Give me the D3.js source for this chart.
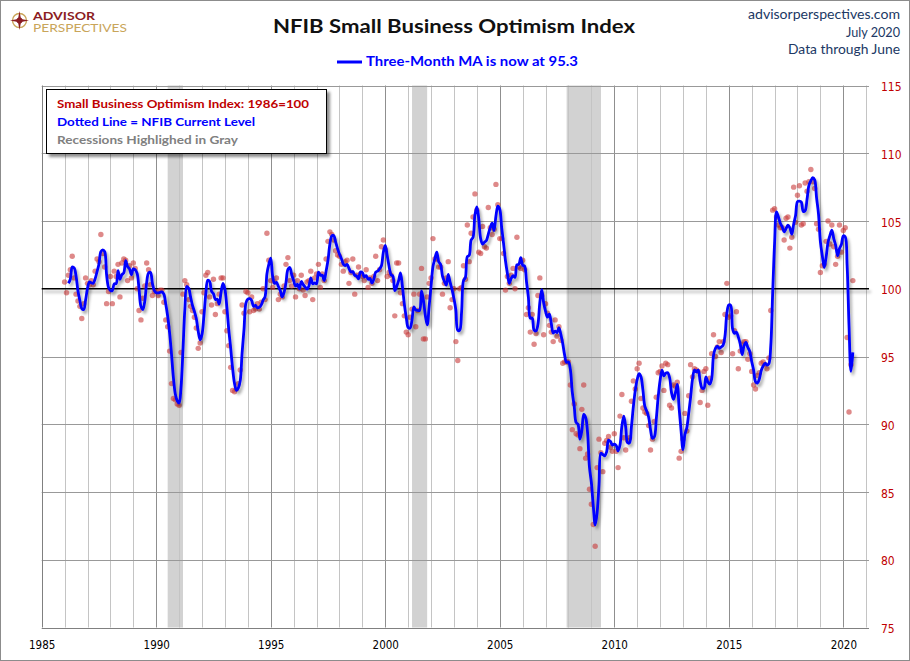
<!DOCTYPE html>
<html>
<head>
<meta charset="utf-8">
<script src="https://d3js.org/d3.v7.min.js"></script>
<style>
  body { margin: 0; background: #fff; }
  svg { display: block; }
</style>
</head>
<body>
<div id="chart"></div>
<script>
// NFIB Small Business Optimism Index, monthly, Jan 1986 .. Jun 2020
var startYear = 1986;
var sboi = [
  /*1986*/ 100.5, 99.7, 101.0, 101.4, 102.4, 100.8, 99.6, 99.1, 98.7, 97.8, 98.9, 100.8,
  /*1987*/ 100.4, 100.3, 100.6, 100.3, 101.3, 102.2, 102.0, 104.0, 102.6, 101.6, 98.9, 99.8,
  /*1988*/ 100.9, 98.9, 101.3, 100.9, 101.8, 99.4, 101.9, 102.2, 102.1, 100.6, 101.7, 100.8,
  /*1989*/ 101.9, 101.5, 100.0, 98.4, 97.7, 99.3, 100.2, 101.9, 101.4, 100.3, 99.5, 99.8,
  /*1990*/ 99.8, 99.5, 99.9, 99.9, 99.0, 97.7, 97.2, 95.4, 93.0, 91.9, 91.8, 91.5,
  /*1991*/ 91.4, 95.3, 99.6, 100.6, 100.3, 99.2, 98.7, 98.4, 97.9, 97.1, 95.6, 96.0,
  /*1992*/ 98.3, 99.7, 101.0, 101.2, 99.4, 98.8, 100.7, 98.1, 98.9, 99.6, 100.8, 100.8,
  /*1993*/ 98.3, 96.9, 95.8, 94.2, 92.5, 92.4, 92.6, 93.0, 94.0, 98.8, 98.2, 99.8,
  /*1994*/ 99.7, 98.3, 99.4, 98.4, 98.5, 98.9, 98.5, 99.0, 100.0, 99.2, 104.1, 102.1,
  /*1995*/ 100.6, 100.1, 100.5, 100.8, 99.2, 99.6, 99.4, 100.2, 101.8, 102.3, 100.6, 100.2,
  /*1996*/ 101.0, 99.4, 100.6, 100.0, 101.0, 99.9, 99.5, 100.5, 100.6, 101.3, 99.2, 100.8,
  /*1997*/ 101.1, 101.8, 100.1, 101.1, 100.6, 102.2, 103.5, 104.2, 104.0, 103.6, 102.8, 102.5,
  /*1998*/ 102.4, 101.8, 101.3, 102.0, 102.1, 100.4, 101.2, 102.2, 99.6, 101.0, 101.6, 101.1,
  /*1999*/ 100.9, 100.6, 101.4, 100.1, 100.8, 100.4, 100.9, 102.4, 100.6, 101.4, 103.1, 103.6,
  /*2000*/ 102.9, 100.9, 101.2, 101.0, 100.6, 98.0, 101.9, 101.9, 99.7, 98.9, 98.0, 96.8,
  /*2001*/ 96.6, 97.9, 98.5, 99.6, 97.2, 98.4, 99.6, 101.5, 96.3, 96.3, 99.4, 100.4,
  /*2002*/ 100.8, 103.7, 102.2, 102.2, 101.6, 101.6, 99.6, 100.4, 100.8, 102.0, 98.6, 99.2,
  /*2003*/ 100.0, 96.1, 94.7, 100.0, 100.1, 101.7, 100.7, 104.7, 102.0, 104.1, 105.3, 107.0,
  /*2004*/ 105.8, 102.7, 102.6, 104.6, 103.1, 103.0, 106.0, 104.5, 104.0, 104.4, 107.7, 106.2,
  /*2005*/ 103.7, 103.7, 102.6, 99.9, 100.9, 100.4, 101.0, 101.5, 100.0, 103.8, 101.6, 101.5,
  /*2006*/ 102.1, 101.4, 98.1, 98.6, 96.8, 98.1, 95.9, 96.7, 99.5, 100.8, 99.5, 96.6,
  /*2007*/ 98.9, 98.2, 97.3, 96.8, 96.1, 97.7, 96.5, 97.2, 96.2, 94.5, 94.6, 94.6,
  /*2008*/ 94.6, 92.9, 89.6, 91.5, 89.3, 89.2, 88.2, 91.1, 92.9, 87.5, 87.8, 85.2,
  /*2009*/ 84.1, 82.6, 81.0, 86.8, 88.9, 87.9, 86.5, 88.6, 88.8, 89.1, 88.3, 88.0,
  /*2010*/ 89.3, 88.0, 86.8, 90.6, 92.2, 89.0, 88.1, 88.8, 89.0, 91.7, 93.2, 92.6,
  /*2011*/ 94.1, 94.5, 91.9, 91.2, 90.9, 90.8, 89.9, 88.1, 88.9, 90.2, 92.0, 93.8,
  /*2012*/ 93.9, 94.3, 92.5, 94.5, 94.4, 91.4, 91.2, 92.9, 92.8, 93.1, 87.5, 88.0,
  /*2013*/ 88.9, 90.8, 89.5, 92.1, 94.4, 93.5, 94.1, 94.0, 93.9, 91.6, 92.5, 93.9,
  /*2014*/ 94.1, 91.4, 93.4, 95.2, 96.6, 95.0, 95.7, 96.1, 95.3, 96.1, 98.1, 100.4,
  /*2015*/ 97.9, 98.0, 95.2, 96.9, 98.3, 94.1, 95.4, 95.9, 96.1, 96.1, 94.8, 95.2,
  /*2016*/ 93.9, 92.9, 92.6, 93.6, 93.8, 94.5, 94.6, 94.4, 94.1, 94.9, 98.4, 105.8,
  /*2017*/ 105.9, 105.3, 104.7, 104.5, 104.5, 103.6, 105.2, 105.3, 103.0, 103.8, 107.5, 104.9,
  /*2018*/ 106.9, 107.6, 104.7, 104.8, 107.8, 107.2, 107.9, 108.8, 107.9, 107.4, 104.8, 104.4,
  /*2019*/ 101.2, 101.7, 101.8, 103.5, 105.0, 103.3, 104.7, 103.1, 101.8, 102.4, 104.7, 102.7,
  /*2020*/ 104.3, 104.5, 96.4, 90.9, 94.4, 100.6
];

// recessions as [start, end] in fractional years
var recessions = [[1990.5, 1991.17], [2001.17, 2001.83], [2007.92, 2009.42]];
var xTicks = [1985, 1990, 1995, 2000, 2005, 2010, 2015, 2020];
var yTicks = [75, 80, 85, 90, 95, 100, 105, 110, 115];
var legendLines = [
  ["Small Business Optimism Index: 1986=100", "#c00000", 252],
  ["Dotted Line = NFIB Current Level", "#0000ff", 198],
  ["Recessions Highlighed in Gray", "#808080", 181]
];

var W = 910, H = 661;
var svg = d3.select("#chart").append("svg").attr("width", W).attr("height", H);

var defs = svg.append("defs");
function shadow(id, dx, dy, sd, op) {
  defs.append("filter").attr("id", id)
    .attr("filterUnits", "userSpaceOnUse")
    .attr("x", 0).attr("y", 0).attr("width", W).attr("height", H)
    .append("feDropShadow")
    .attr("dx", dx).attr("dy", dy).attr("stdDeviation", sd)
    .attr("flood-color", "#000").attr("flood-opacity", op);
}
shadow("lineShadow", 2, 3, 1.6, 0.35);
shadow("boxShadow", 3, 3, 1.5, 0.45);

// outer frame
svg.append("rect").attr("x", 0.5).attr("y", 0.5).attr("width", W - 1).attr("height", H - 1)
  .attr("fill", "#fff").attr("stroke", "#8c8c8c");

// logo
var logo = svg.append("g");
logo.append("circle").attr("cx", 19.5).attr("cy", 20.5).attr("r", 7)
  .attr("fill", "none").attr("stroke", "#c9a55a").attr("stroke-width", 1.4);
logo.append("path")
  .attr("d", "M19.5,11 L21,19 L29,20.5 L21,22 L19.5,30 L18,22 L10,20.5 L18,19 Z")
  .attr("fill", "#8b1c23");
logo.append("circle").attr("cx", 19.5).attr("cy", 20.5).attr("r", 3).attr("fill", "#8b1c23");
logo.append("text").attr("x", 33).attr("y", 19.5).text("ADVISOR")
  .attr("font-family", "Lato, 'Open Sans', sans-serif").attr("font-weight", "bold")
  .attr("font-size", 11).attr("fill", "#8b1c23").attr("textLength", 62).attr("lengthAdjust", "spacingAndGlyphs");
logo.append("text").attr("x", 33).attr("y", 32).text("PERSPECTIVES")
  .attr("font-family", "Lato, 'Open Sans', sans-serif")
  .attr("font-size", 11).attr("fill", "#c9a55a").attr("textLength", 94).attr("lengthAdjust", "spacingAndGlyphs");

// titles
svg.append("text").attr("x", 273).attr("y", 32.5).text("NFIB Small Business Optimism Index")
  .attr("font-family", "Lato, 'Open Sans', sans-serif").attr("font-weight", "bold")
  .attr("font-size", 19).attr("fill", "#111")
  .attr("textLength", 362).attr("lengthAdjust", "spacingAndGlyphs");

svg.append("line").attr("x1", 337).attr("x2", 362).attr("y1", 62).attr("y2", 62)
  .attr("stroke", "#0000ff").attr("stroke-width", 3);
svg.append("text").attr("x", 366).attr("y", 66).text("Three-Month MA is now at 95.3")
  .attr("font-family", "Lato, 'Open Sans', sans-serif").attr("font-weight", "bold")
  .attr("font-size", 13.5).attr("fill", "#0000ff")
  .attr("textLength", 212).attr("lengthAdjust", "spacingAndGlyphs");

var header = [["advisorperspectives.com", 19, 152], ["July 2020", 36.5, 54], ["Data through June", 54, 112]];
svg.selectAll("text.hdr").data(header).enter().append("text").attr("class", "hdr")
  .attr("x", 900).attr("y", function(d) { return d[1]; })
  .attr("text-anchor", "end")
  .attr("font-family", "Lato, 'Open Sans', sans-serif").attr("font-size", 13.5)
  .attr("fill", "#203864")
  .attr("textLength", function(d) { return d[2]; }).attr("lengthAdjust", "spacingAndGlyphs")
  .text(function(d) { return d[0]; });

// scales
var x = d3.scaleLinear().domain([1985, 2021]).range([41.7, 866.2]);
var y = d3.scaleLinear().domain([75, 115]).range([627.5, 85.5]);
function px(v) { return Math.round(x(v)) + 0.5; }
function py(v) { return Math.round(y(v)) + 0.5; }

var plot = svg.append("g");

// recession bands
plot.selectAll("rect.rec").data(recessions).enter().append("rect").attr("class", "rec")
  .attr("x", function(d) { return x(d[0]); })
  .attr("width", function(d) { return x(d[1]) - x(d[0]); })
  .attr("y", y(115)).attr("height", y(75) - y(115))
  .attr("fill", "#d2d2d2");

// vertical year grid
var gridYears = d3.range(1986, 2022);
plot.selectAll("line.vg").data(gridYears).enter().append("line").attr("class", "vg")
  .attr("x1", px).attr("x2", px)
  .attr("y1", y(115)).attr("y2", y(75))
  .attr("stroke", function(d) { return d % 5 === 0 ? "#8f8f8f" : "#c4c4c4"; })
  .attr("stroke-width", 1);

// horizontal grid
plot.selectAll("line.hg").data(yTicks.filter(function(d) { return d !== 100; })).enter()
  .append("line").attr("class", "hg")
  .attr("x1", x(1985)).attr("x2", 869)
  .attr("y1", py).attr("y2", py)
  .attr("stroke", function(d) { return d === 75 ? "#808080" : "#999"; });

// left axis line
plot.append("line").attr("x1", px(1985)).attr("x2", px(1985))
  .attr("y1", y(115)).attr("y2", y(75)).attr("stroke", "#808080");

// 100 reference line
plot.append("line").attr("x1", x(1985)).attr("x2", 869)
  .attr("y1", y(100)).attr("y2", y(100))
  .attr("stroke", "#000").attr("stroke-width", 1.6)
  .attr("filter", "url(#lineShadow)");

// monthly points
var points = sboi.map(function(v, i) { return { t: startYear + i / 12, v: v }; });
plot.selectAll("circle.pt").data(points).enter().append("circle").attr("class", "pt")
  .attr("cx", function(d) { return x(d.t); })
  .attr("cy", function(d) { return y(d.v); })
  .attr("r", 2.7)
  .attr("fill", "#c83a3a").attr("fill-opacity", 0.6);

// three-month moving average
var ma = points.slice(2).map(function(d, i) {
  return { t: d.t, v: d3.mean(sboi.slice(i, i + 3)) };
});
var line = d3.line()
  .x(function(d) { return x(d.t); })
  .y(function(d) { return y(d.v); })
  .curve(d3.curveCatmullRom.alpha(0.5));
plot.append("path").datum(ma)
  .attr("d", line)
  .attr("fill", "none").attr("stroke", "#0000ff").attr("stroke-width", 2.8)
  .attr("stroke-linejoin", "round")
  .attr("filter", "url(#lineShadow)");

// axes
var xAxis = svg.append("g").attr("transform", "translate(0," + y(75) + ")")
  .call(d3.axisBottom(x).tickValues(xTicks).tickFormat(d3.format("d")).tickSize(0).tickPadding(13));
xAxis.select(".domain").remove();
xAxis.selectAll("text")
  .attr("font-family", "'DejaVu Sans Condensed', 'DejaVu Sans', sans-serif")
  .attr("font-size", 11.5).attr("fill", "#000");

var yAxis = svg.append("g").attr("transform", "translate(881,0)")
  .call(d3.axisRight(y).tickValues(yTicks).tickSize(0).tickPadding(0));
yAxis.select(".domain").remove();
yAxis.selectAll("text")
  .attr("dy", "0.42em").attr("text-anchor", "start")
  .attr("font-family", "'DejaVu Sans Condensed', 'DejaVu Sans', sans-serif")
  .attr("font-size", 12).attr("fill", "#c00000");

// legend box
var lg = svg.append("g");
lg.append("rect").attr("x", 46.5).attr("y", 89.5).attr("width", 280).attr("height", 64)
  .attr("fill", "#fff").attr("stroke", "#000").attr("filter", "url(#boxShadow)");
lg.selectAll("text").data(legendLines).enter().append("text")
  .attr("x", 57).attr("y", function(d, i) { return 108 + i * 18.2; })
  .attr("font-family", "Lato, 'Open Sans', sans-serif").attr("font-weight", "bold")
  .attr("font-size", 12).attr("fill", function(d) { return d[1]; })
  .attr("textLength", function(d) { return d[2]; }).attr("lengthAdjust", "spacingAndGlyphs")
  .text(function(d) { return d[0]; });
</script>
</body>
</html>
